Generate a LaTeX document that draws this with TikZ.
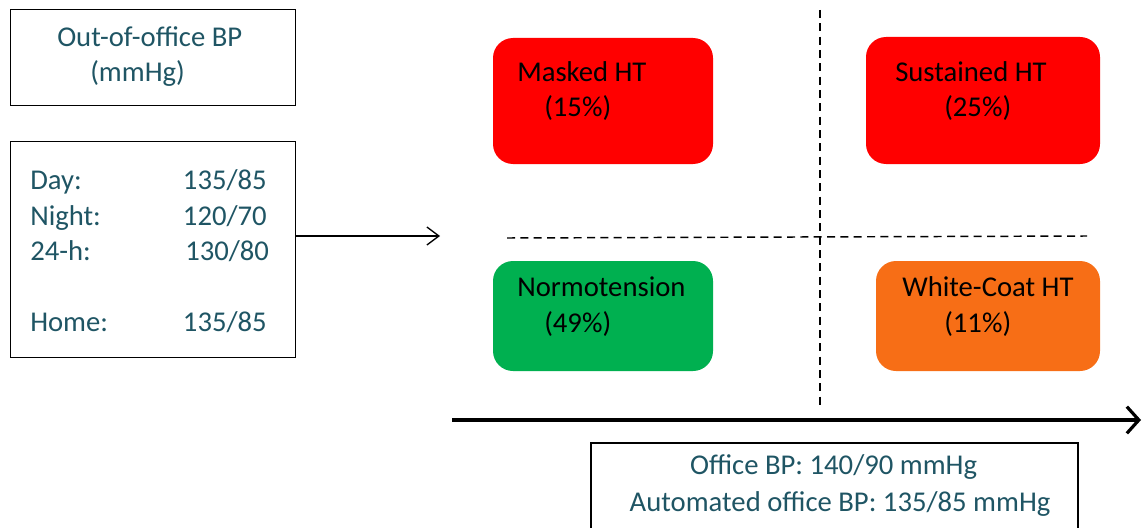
\documentclass[tikz,border=0pt]{standalone}
\usepackage{fontspec}
\setmainfont{Carlito}
\usepackage{tikz}
\usetikzlibrary{arrows.meta,positioning,calc}
\definecolor{tealtext}{RGB}{31,85,100}
\definecolor{htred}{RGB}{255,0,0}
\definecolor{htgreen}{RGB}{0,176,80}
\definecolor{htorange}{RGB}{247,110,22}
\def\px{0.75pt}

\begin{document}
\begin{tikzpicture}[x=0.75pt, y=-0.75pt, font=\fontsize{21.5}{26.6}\selectfont]
\tikzstyle{frame}=[draw, line width=1.2pt, inner sep=0pt]
\tikzstyle{hbox}=[rounded corners=15pt, inner sep=0pt]
\tikzstyle{txt}=[anchor=base west, inner sep=0pt, text=tealtext]
\tikzstyle{htxt}=[anchor=base west, inner sep=0pt, text=black]
\tikzstyle{quad}=[line width=1.1pt, dash pattern=on 6pt off 4pt]
\useasboundingbox (0,0) rectangle (1142,528);
% left side: out-of-office thresholds
\node[frame, minimum width=285*\px, minimum height=96*\px] (title) at (153,57.5) {};
\node[txt] (titlea) at (57,46.7) {Out-of-office BP};
\node[txt] (titleb) at (90,81.7) {(mmHg)};
\node[frame, minimum width=285*\px, minimum height=216*\px] (readings) at (153,249.5) {};
\foreach \yy/\lab/\vx/\val [count=\i] in {189/Day:/182.7/{135/85}, 225/Night:/182.7/{120/70},
    260.7/24-h:/185/{130/80}, 331.7/Home:/182.7/{135/85}}{
  \node[txt] (lab\i) at (30,\yy) {\lab};
  \node[txt] (val\i) at (\vx,\yy) {\val};
}
\coordinate (arrowend) at (440,236);
\draw[line width=1pt, -{Straight Barb[length=9pt, width=13.5pt, line width=1pt]}] (readings.east |- arrowend) -- (arrowend);
% quadrants
\node[hbox, fill=htred, minimum width=220*\px, minimum height=126*\px] (masked) at (603,101) {};
\node[hbox, fill=htred, minimum width=234*\px, minimum height=127*\px] (sustained) at (983,100.5) {};
\node[hbox, fill=htgreen, minimum width=220*\px, minimum height=110*\px] (normo) at (603,316) {};
\node[hbox, fill=htorange, minimum width=224*\px, minimum height=110*\px] (whitecoat) at (988,316) {};
\node[htxt] (maskeda) at (517,82) {Masked HT};
\node[htxt] (maskedb) at (544,117) {(15\%)};
\node[htxt] (sustaineda) at (895,82) {Sustained HT};
\node[htxt] (sustainedb) at (944,117) {(25\%)};
\node[htxt] (normoa) at (517,296) {Normotension};
\node[htxt] (normob) at (544,332) {(49\%)};
\node[htxt] (whitecoata) at (902,296) {White-Coat HT};
\node[htxt] (whitecoatb) at (944,332) {(11\%)};
\draw[quad] (820,10) -- (820,408);
\draw[quad] (507,238) -- (1087,236);
% office BP axis
\coordinate (axisstart) at (452,420);
\coordinate (axisend) at (1141,420);
\draw[line width=2.4pt, -{Straight Barb[length=9pt, width=20pt, line width=2.4pt]}] (axisstart) -- (axisend);
\node[frame, minimum width=487*\px, minimum height=96*\px] (office) at (834.5,491) {};
\node[txt, anchor=base] (officea) at (833.5,474) {Office BP: 140/90 mmHg};
\node[txt, anchor=base] (officeb) at (840,511) {Automated office BP: 135/85 mmHg};
\end{tikzpicture}
\end{document}
